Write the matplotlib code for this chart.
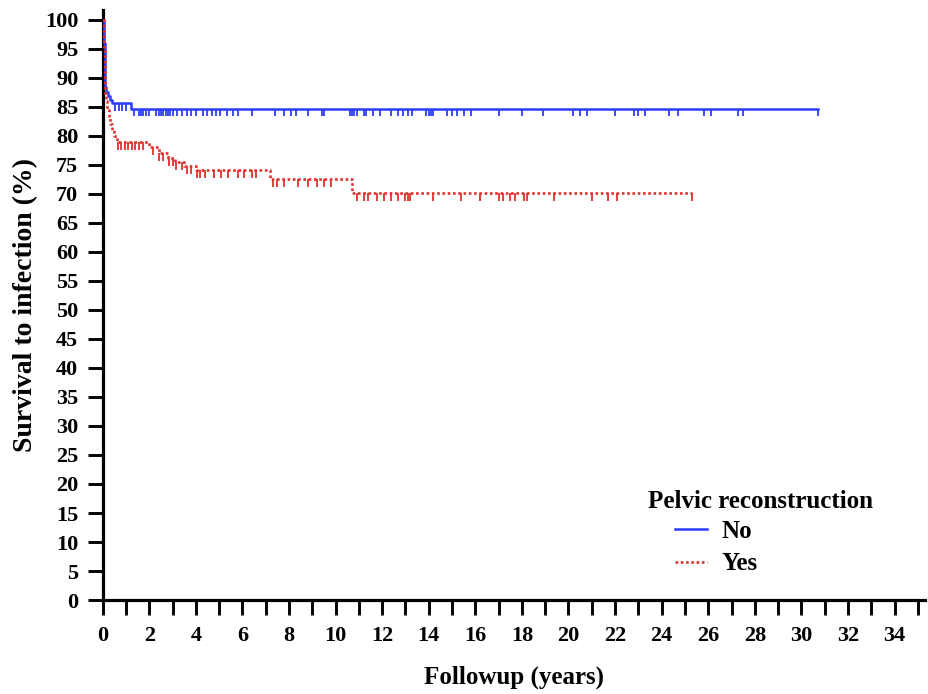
import numpy as np
import matplotlib
matplotlib.use("Agg")
import matplotlib.pyplot as plt
from matplotlib.lines import Line2D

plt.rcParams['font.family'] = ['Liberation Serif', 'DejaVu Serif']
plt.rcParams['font.weight'] = 'bold'

# Kaplan-Meier steps (years, % free of infection)
no_times = [0, 0.06, 0.09, 0.12, 0.16, 0.22, 0.3, 0.4, 1.2, 30.7]
no_surv = [100, 96, 92, 88.5, 87.5, 86.8, 86.2, 85.7, 84.7, 84.7]

yes_times = [0, 0.05, 0.08, 0.11, 0.15, 0.2, 0.26, 0.33, 0.4, 0.5, 0.6,
             2.0, 2.4, 2.8, 3.1, 3.5, 4.0, 7.2, 10.7, 25.3]
yes_surv = [100, 95, 90, 87, 86, 84.5, 83.5, 82, 81, 80, 79,
            78, 77, 76.2, 75.5, 74.8, 74.1, 72.6, 70.2, 70.2]

# censored observations
no_censor = [0.55, 0.7, 0.85, 1.0, 1.33, 1.55, 1.65, 1.75, 1.85, 2.0, 2.3, 2.4,
             2.5, 2.6, 2.7, 2.8, 2.9, 3.0, 3.2, 3.4, 3.6, 3.8, 4.0, 4.3, 4.5,
             4.7, 4.85, 5.05, 5.35, 5.6, 5.8, 6.4, 7.4, 7.8, 8.1, 8.3, 8.8,
             9.4, 9.5, 10.6, 10.7, 10.8, 10.9, 11.2, 11.3, 11.6, 11.9, 12.4,
             12.7, 12.9, 13.1, 13.3, 13.9, 14.0, 14.1, 14.2, 14.8, 15.0, 15.2,
             15.5, 15.8, 17.0, 18.0, 18.9, 20.2, 20.5, 20.8, 22.0, 22.8, 23.0,
             23.3, 24.3, 24.7, 25.8, 26.1, 27.3, 27.5, 30.7]
yes_censor = [0.65, 0.8, 0.95, 1.1, 1.25, 1.4, 1.55, 1.75, 2.15, 2.4, 2.6, 2.85,
              3.0, 3.15, 3.4, 3.6, 3.8, 4.05, 4.2, 4.4, 4.8, 5.1, 5.4, 5.8,
              6.05, 6.4, 6.6, 7.3, 7.5, 7.8, 8.4, 8.8, 9.2, 9.5, 9.8, 10.9,
              11.2, 11.4, 11.8, 12.1, 12.4, 12.7, 13.0, 13.1, 13.2, 14.2, 15.4,
              16.2, 17.0, 17.2, 17.5, 17.7, 18.1, 18.2, 19.4, 21.0, 21.7, 22.1,
              25.3]

blue = '#2b3cff'
red = '#e0302c'


def level_at(times, surv, t):
    idx = np.searchsorted(times, t, side='right') - 1
    return np.array(surv)[idx]


fig = plt.figure(figsize=(9.29, 6.94), dpi=100)
ax = fig.add_axes([0.1105, 0.1354, 0.885, 0.8502])

ax.step(no_times, no_surv, where='post', color=blue, lw=1.8, zorder=3)
ax.step(yes_times, yes_surv, where='post', color=red, lw=1.9,
        linestyle=(0, (1, 1)), zorder=3)

cy = level_at(no_times, no_surv, no_censor)
ax.vlines(no_censor, cy - 1.35, cy, color=blue, lw=1.3)
cy = level_at(yes_times, yes_surv, yes_censor)
ax.vlines(yes_censor, cy - 1.35, cy, color=red, lw=1.3)

ax.set_xlim(0, 35.3)
ax.set_ylim(0, 101.7)
ax.set_xticks(np.arange(0, 36, 1))
ax.set_xticklabels([str(v) if v % 2 == 0 and v <= 34 else '' for v in range(36)])
ax.set_yticks(np.arange(0, 101, 5))

for s in ['top', 'right']:
    ax.spines[s].set_visible(False)
for s in ['left', 'bottom']:
    ax.spines[s].set_linewidth(2.3)
ax.tick_params(axis='both', direction='out', length=10.5, width=2.1,
               labelsize=16, pad=7)
ax.tick_params(axis='x', pad=8)
for lab in ax.get_xticklabels() + ax.get_yticklabels():
    lab.set_fontweight('bold')

ax.set_xlabel('Followup (years)', fontsize=18, fontweight='bold', labelpad=14)
ax.set_ylabel('Survival to infection (%)', fontsize=20, fontweight='bold',
              labelpad=5)

handles = [Line2D([], [], color=blue, lw=1.8),
           Line2D([], [], color=red, lw=1.9, linestyle=(0, (1, 1)))]
leg = ax.legend(handles, ['No', 'Yes'], frameon=False, fontsize=18,
                loc='upper left', bbox_to_anchor=(0.696, 0.136),
                borderpad=0, borderaxespad=0,
                handlelength=1.3, handletextpad=0.55, labelspacing=0.38)
for t in leg.get_texts():
    t.set_fontweight('bold')
ax.text(0.663, 0.1675, 'Pelvic reconstruction', transform=ax.transAxes,
        fontsize=18, fontweight='bold', ha='left', va='center')

fig.savefig('out.png', dpi=100)
